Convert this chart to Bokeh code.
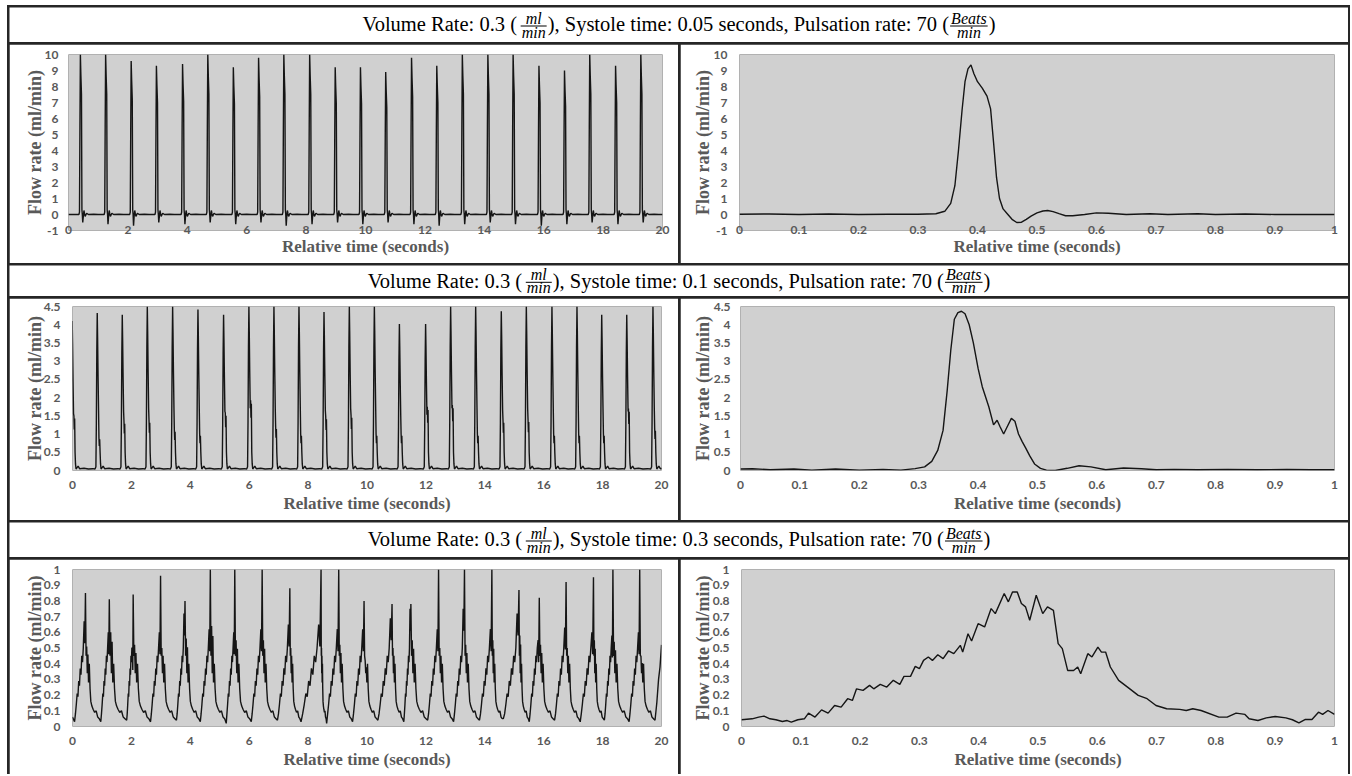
from bokeh.plotting import figure
from bokeh.layouts import column, row
from bokeh.models import Range1d, FixedTicker, ColumnDataSource
from bokeh.core.properties import value
from bokeh.embed import file_html
from bokeh.resources import INLINE

# ---------------- title data ----------------
volume_rates = ["0.3", "0.3", "0.3"]
systole_times = ["0.05", "0.1", "0.3"]
pulsation_rates = ["70", "70", "70"]

# ---------------- axis ticks ----------------
x_ticks_long = [0, 2, 4, 6, 8, 10, 12, 14, 16, 18, 20]
x_labels_long = ["0", "2", "4", "6", "8", "10", "12", "14", "16", "18", "20"]
x_ticks_short = [0, 0.1, 0.2, 0.3, 0.4, 0.5, 0.6, 0.7, 0.8, 0.9, 1]
x_labels_short = ["0", "0.1", "0.2", "0.3", "0.4", "0.5", "0.6", "0.7", "0.8", "0.9", "1"]
y_ticks_r1 = [-1, 0, 1, 2, 3, 4, 5, 6, 7, 8, 9, 10]
y_labels_r1 = ["-1", "0", "1", "2", "3", "4", "5", "6", "7", "8", "9", "10"]
y_ticks_r2 = [0, 0.5, 1, 1.5, 2, 2.5, 3, 3.5, 4, 4.5]
y_labels_r2 = ["0", "0.5", "1", "1.5", "2", "2.5", "3", "3.5", "4", "4.5"]
y_ticks_r3 = [0, 0.1, 0.2, 0.3, 0.4, 0.5, 0.6, 0.7, 0.8, 0.9, 1]
y_labels_r3 = ["0", "0.1", "0.2", "0.3", "0.4", "0.5", "0.6", "0.7", "0.8", "0.9", "1"]

# ---------------- row 1 (systole 0.05 s) ----------------
peak_t1 = [0.40, 1.25, 2.11, 2.96, 3.84, 4.69, 5.55, 6.40, 7.25, 8.12, 8.98, 9.83,
           10.68, 11.55, 12.40, 13.26, 14.12, 14.97, 15.84, 16.70, 17.55, 18.42, 19.27]
peak_v1 = [10.0, 10.0, 9.6, 9.3, 9.4, 10.0, 9.2, 9.8, 10.0, 10.0, 9.2, 9.2,
           8.9, 9.8, 9.3, 10.0, 10.0, 10.0, 9.3, 9.0, 10.0, 9.3, 10.0]
dip_v1 = [-0.5, -0.6, -0.7, -0.5, -0.6, -0.5, -0.6, -0.5, -0.7, -0.6, -0.5, -0.6,
          -0.5, -0.6, -0.7, -0.6, -0.5, -0.6, -0.7, -0.6, -0.5, -0.6, -0.5]
t1r = [0, 0.05, 0.1, 0.15, 0.2, 0.25, 0.3, 0.33, 0.345, 0.355, 0.362, 0.368, 0.374, 0.379,
       0.384, 0.389, 0.394, 0.4, 0.408, 0.416, 0.422, 0.427, 0.432, 0.437, 0.443, 0.45, 0.458,
       0.466, 0.474, 0.482, 0.49, 0.5, 0.51, 0.518, 0.527, 0.537, 0.548, 0.56, 0.58, 0.6, 0.62,
       0.65, 0.69, 0.72, 0.77, 0.8, 0.85, 0.9, 0.95, 1.0]
v1r = [0.02, 0.03, 0.0, 0.03, 0.0, 0.02, 0.02, 0.05, 0.2, 0.7, 1.8, 4.0, 6.5, 8.3,
       9.1, 9.35, 8.8, 8.3, 7.9, 7.4, 6.6, 4.5, 2.3, 1.0, 0.35, 0.05, -0.3,
       -0.5, -0.48, -0.3, -0.1, 0.1, 0.22, 0.25, 0.18, 0.05, -0.08, -0.08, 0.0, 0.1, 0.08,
       0.0, 0.05, 0.0, 0.05, 0.0, 0.03, 0.0, 0.0, 0.0]

# ---------------- row 2 (systole 0.1 s) ----------------
peak_t2 = [-0.01, 0.84, 1.69, 2.54, 3.40, 4.26, 5.13, 5.99, 6.84, 7.69, 8.54, 9.40,
           10.25, 11.10, 11.99, 12.84, 13.69, 14.56, 15.41, 16.28, 17.13, 17.97, 18.82, 19.71]
peak_v2 = [4.1, 4.32, 4.27, 4.5, 4.5, 4.42, 4.27, 4.5, 4.5, 4.5, 4.35, 4.5,
           4.5, 4.02, 4.02, 4.5, 4.5, 4.37, 4.5, 4.5, 4.5, 4.27, 4.27, 4.5]
sec_v2 = [1.5, 0.9, 1.35, 1.38, 1.12, 1.0, 1.58, 1.93, 1.2, 1.0, 1.48, 1.52,
          1.0, 1.0, 1.75, 1.8, 1.0, 1.38, 1.4, 1.0, 1.0, 1.0, 1.7, 1.15]
t2r = [0, 0.02, 0.05, 0.09, 0.12, 0.16, 0.2, 0.24, 0.27, 0.294, 0.31, 0.322, 0.332, 0.341,
       0.348, 0.354, 0.36, 0.366, 0.372, 0.378, 0.385, 0.392, 0.4, 0.407, 0.418, 0.426, 0.432,
       0.437, 0.443, 0.449, 0.456, 0.462, 0.468, 0.474, 0.48, 0.487, 0.495, 0.505, 0.515, 0.53,
       0.55, 0.57, 0.59, 0.615, 0.645, 0.675, 0.7, 0.73, 0.77, 0.82, 0.87, 0.92, 0.96, 1.0]
v2r = [0.04, 0.05, 0.02, 0.04, 0.01, 0.04, 0.01, 0.03, 0.01, 0.05, 0.1, 0.25, 0.55, 1.1,
       2.2, 3.3, 4.15, 4.33, 4.37, 4.3, 4.0, 3.5, 2.8, 2.3, 1.75, 1.25, 1.38,
       1.2, 1.0, 1.2, 1.43, 1.35, 1.0, 0.8, 0.62, 0.4, 0.18, 0.06, 0.01, 0.0,
       0.06, 0.13, 0.1, 0.02, 0.07, 0.05, 0.02, 0.03, 0.02, 0.03, 0.02, 0.03, 0.02, 0.02]

# ---------------- row 3 (systole 0.3 s) ----------------
trough_t3 = [0.07, 0.96, 1.84, 2.65, 3.53, 4.34, 5.22, 6.07, 6.96, 7.76, 8.63, 9.51,
             10.37, 11.25, 12.06, 12.94, 13.82, 14.63, 15.51, 16.37, 17.24, 18.06, 18.90, 19.78]
low_v3 = [0.03, 0.03, 0.04, 0.03, 0.04, 0.03, 0.02, 0.03, 0.04, 0.03, 0.02, 0.03,
          0.04, 0.03, 0.04, 0.03, 0.04, 0.05, 0.03, 0.04, 0.03, 0.04, 0.03, 0.04]
peak_t3 = [0.44, 1.25, 2.06, 2.99, 3.82, 4.68, 5.51, 6.44, 7.38, 8.44, 9.04, 9.90,
           10.85, 11.49, 12.43, 13.31, 14.24, 15.16, 15.85, 16.76, 17.69, 18.35, 19.26]
peak_v3 = [0.85, 0.81, 0.84, 0.96, 0.80, 1.0, 1.0, 1.0, 0.88, 1.0, 1.0, 0.80,
           0.78, 0.78, 1.0, 1.0, 1.0, 0.87, 0.82, 0.92, 0.95, 1.0, 1.0]
pre_v3 = [0.67, 0.6, 0.5, 0.6, 0.72, 0.62, 0.6, 0.62, 0.65, 0.65, 0.62, 0.62,
          0.69, 0.75, 0.62, 0.75, 0.62, 0.72, 0.55, 0.63, 0.6, 0.58, 0.6]
sec_v3 = [0.51, 0.6, 0.52, 0.5, 0.56, 0.64, 0.55, 0.55, 0.5, 0.5, 0.52, 0.42,
          0.5, 0.55, 0.5, 0.52, 0.55, 0.58, 0.52, 0.5, 0.55, 0.54, 0.45]
head_t3, head_v3 = [0.0], [0.06]
tail_t3, tail_v3 = [19.84, 19.9, 19.95, 20.0], [0.15, 0.3, 0.38, 0.52]
t3r = [0.0, 0.018, 0.029, 0.038, 0.048, 0.058, 0.069, 0.077, 0.084, 0.095, 0.106, 0.113, 0.124,
       0.135, 0.146, 0.157, 0.168, 0.179, 0.187, 0.194, 0.205, 0.216, 0.223, 0.234, 0.245, 0.256,
       0.267, 0.274, 0.285, 0.293, 0.300, 0.307, 0.315, 0.322, 0.331, 0.340, 0.349, 0.358, 0.369,
       0.373, 0.382, 0.388, 0.399, 0.410, 0.421, 0.428, 0.443, 0.450, 0.457, 0.465, 0.472, 0.479,
       0.486, 0.497, 0.508, 0.516, 0.526, 0.534, 0.541, 0.550, 0.560, 0.567, 0.572, 0.584, 0.591,
       0.601, 0.607, 0.614, 0.622, 0.636, 0.651, 0.669, 0.684, 0.699, 0.717, 0.739, 0.750, 0.761,
       0.775, 0.805, 0.819, 0.834, 0.849, 0.856, 0.871, 0.885, 0.900, 0.918, 0.929, 0.940, 0.951,
       0.962, 0.973, 0.980, 0.989, 1.0]
v3r = [0.043, 0.049, 0.06, 0.066, 0.049, 0.043, 0.032, 0.038, 0.028, 0.043, 0.049, 0.085, 0.06,
       0.106, 0.085, 0.134, 0.123, 0.177, 0.166, 0.24, 0.23, 0.262, 0.24, 0.268, 0.251, 0.294,
       0.268, 0.319, 0.319, 0.383, 0.368, 0.421, 0.443, 0.421, 0.457, 0.432, 0.481, 0.464, 0.517,
       0.474, 0.591, 0.545, 0.655, 0.634, 0.751, 0.719, 0.847, 0.794, 0.857, 0.857, 0.783, 0.762,
       0.677, 0.836, 0.719, 0.762, 0.740, 0.528, 0.496, 0.357, 0.357, 0.379, 0.336, 0.464, 0.443,
       0.506, 0.474, 0.474, 0.379, 0.294, 0.251, 0.198, 0.177, 0.134, 0.113, 0.109, 0.102, 0.113,
       0.102, 0.06, 0.06, 0.085, 0.077, 0.049, 0.038, 0.055, 0.064, 0.055, 0.043, 0.023, 0.045,
       0.045, 0.091, 0.077, 0.102, 0.077]


# ---------------- assemble 20 s traces from per-beat readings ----------------
def trace_row1():
    xs, ys = [0.0], [0.0]
    for t, p, d in zip(peak_t1, peak_v1, dip_v1):
        pts = [(t - 0.05, 0.0), (t - 0.03, 0.15), (t - 0.015, 0.55 * p), (t, p),
               (t + 0.017, 0.87 * p), (t + 0.037, 0.75 * p), (t + 0.052, 0.3), (t + 0.065, 0.0),
               (t + 0.08, d), (t + 0.1, -0.1), (t + 0.12, 0.25), (t + 0.14, 0.05),
               (t + 0.16, -0.12), (t + 0.21, 0.08), (t + 0.27, 0.0), (t + 0.45, 0.02), (t + 0.6, 0.0)]
        for a, b in pts:
            xs.append(a); ys.append(b)
    xs.append(20.0); ys.append(0.0)
    return xs, ys


def trace_row2():
    xs, ys = [], []
    for t, p, s in zip(peak_t2, peak_v2, sec_v2):
        pts = [(t - 0.075, 0.04), (t - 0.045, 0.1), (t - 0.03, 0.3 * p), (t - 0.015, 0.75 * p),
               (t, p), (t + 0.012, 0.85 * p), (t + 0.028, 0.6 * p), (t + 0.045, 0.38 * p),
               (t + 0.058, s), (t + 0.07, 0.75 * s), (t + 0.083, 0.95 * s), (t + 0.097, 0.5),
               (t + 0.112, 0.18), (t + 0.13, 0.04), (t + 0.2, 0.12), (t + 0.25, 0.05),
               (t + 0.4, 0.06), (t + 0.55, 0.04), (t + 0.7, 0.05)]
        for a, b in pts:
            xs.append(a); ys.append(b)
    return xs, ys


rise_f = [0.08, 0.16, 0.24, 0.31, 0.38, 0.45, 0.52, 0.59, 0.66, 0.73, 0.8]
rise_lv = [0.08, 0.14, 0.21, 0.19, 0.29, 0.26, 0.37, 0.33, 0.45, 0.41, 0.5]
fall_f = [0.04, 0.08, 0.12, 0.16, 0.2, 0.25, 0.3, 0.35, 0.42, 0.5, 0.6, 0.7, 0.8, 0.9]
fall_lv = [0.45, None, 0.34, None, 0.28, 0.4, 0.24, 0.16, 0.13, 0.11, 0.09, 0.1, 0.06, 0.05]


def trace_row3():
    xs, ys = list(head_t3), list(head_v3)
    for k in range(len(peak_t3)):
        T, P, Tn = trough_t3[k], peak_t3[k], trough_t3[k + 1]
        d, e = P - T, Tn - P
        xs.append(T); ys.append(low_v3[k])
        for f, lv in zip(rise_f, rise_lv):
            xs.append(T + f * d); ys.append(lv)
        xs.append(T + 0.88 * d); ys.append(pre_v3[k])
        xs.append(T + 0.94 * d); ys.append(pre_v3[k] - 0.14)
        xs.append(P); ys.append(peak_v3[k])
        for i, (f, lv) in enumerate(zip(fall_f, fall_lv)):
            if lv is None:
                lv = sec_v3[k] if i == 1 else 0.9 * sec_v3[k]
            xs.append(P + f * e); ys.append(lv)
    xs.append(trough_t3[-1]); ys.append(low_v3[-1])
    xs += tail_t3; ys += tail_v3
    return xs, ys


# ---------------- styling helpers ----------------
GRAY_TXT = "#595959"
PLOT_BG = "#d0d0d0"
LINE_C = "#151515"


def panel(w, h, ml, mr, mt, mb, xr, yr, xt, xl, yt, yl, x_so, x_lso, y_so, y_lso, xs, ys):
    p = figure(width=w, height=h, x_range=Range1d(*xr), y_range=Range1d(*yr),
               output_backend="svg", toolbar_location=None,
               min_border_left=ml, min_border_right=mr, min_border_top=mt, min_border_bottom=mb)
    p.background_fill_color = PLOT_BG
    p.border_fill_color = "white"
    p.outline_line_color = None
    p.grid.visible = False
    for ax in (p.xaxis[0], p.yaxis[0]):
        ax.axis_line_color = None
        ax.major_tick_line_color = None
        ax.minor_tick_line_color = None
        ax.major_tick_out = 0
        ax.major_tick_in = 0
        ax.major_label_text_font = "Lato"
        ax.major_label_text_font_style = "bold"
        ax.major_label_text_font_size = "12px"
        ax.major_label_text_color = GRAY_TXT
        ax.axis_label_text_font = "Liberation Serif"
        ax.axis_label_text_font_style = "bold"
        ax.axis_label_text_color = GRAY_TXT
    p.xaxis.ticker = FixedTicker(ticks=xt)
    p.xaxis.major_label_overrides = {t: s for t, s in zip(xt, xl)}
    p.yaxis.ticker = FixedTicker(ticks=yt)
    p.yaxis.major_label_overrides = {t: s for t, s in zip(yt, yl)}
    p.xaxis.axis_label = "Relative time (seconds)"
    p.xaxis.axis_label_text_font_size = "17px"
    p.yaxis.axis_label = "Flow rate (ml/min)"
    p.yaxis.axis_label_text_font_size = "18px"
    p.xaxis.major_label_standoff = x_so
    p.xaxis.axis_label_standoff = x_lso
    p.yaxis.major_label_standoff = y_so
    p.yaxis.axis_label_standoff = y_lso
    src = ColumnDataSource(dict(t=xs, v=ys))
    p.line(x="t", y="v", source=src, line_color=LINE_C, line_width=1.4)
    return p


# Times-compatible advance widths (per 1000 em), for laying out the title text
REG = {'V': 722, 'o': 500, 'l': 278, 'u': 500, 'm': 778, 'e': 444, ' ': 250, 'R': 667, 'a': 444,
       't': 278, ':': 278, '.': 250, '(': 333, ')': 333, ',': 250, 'S': 556, 'y': 500, 's': 389,
       'i': 278, 'c': 444, 'n': 500, 'd': 500, 'P': 556, 'r': 333}
ITA = {'m': 722, 'l': 278, 'i': 278, 'n': 500, 'B': 611, 'e': 444, 'a': 500, 't': 278, 's': 389}


def tw(s, size, tab):
    return size * sum(tab.get(c, 500) for c in s) / 1000.0


TW = 1339
FS, FFS = 20.5, 16.0
BASE_SHIFT = 0.32  # renderer places 'alphabetic' text ~0.32 em low


def title_fig(h, bar, den_gap, k):
    p = figure(width=TW, height=h, x_range=Range1d(0, TW), y_range=Range1d(h, 0),
               output_backend="svg", toolbar_location=None, x_axis_type=None, y_axis_type=None,
               min_border_left=0, min_border_right=0, min_border_top=0, min_border_bottom=0)
    p.outline_line_color = None
    p.background_fill_color = "white"
    p.border_fill_color = "white"
    seg1 = "Volume Rate: %s (" % volume_rates[k]
    seg2 = "), Systole time: %s seconds, Pulsation rate: %s (" % (systole_times[k], pulsation_rates[k])
    seg3 = ")"
    fr1 = ("ml", "min")
    fr2 = ("Beats", "min")
    w1, w2, w3 = tw(seg1, FS, REG), tw(seg2, FS, REG), tw(seg3, FS, REG)
    f1w = max(tw(fr1[0], FFS, ITA), tw(fr1[1], FFS, ITA)) + 4
    f2w = max(tw(fr2[0], FFS, ITA), tw(fr2[1], FFS, ITA)) + 4
    total = w1 + f1w + w2 + f2w + w3
    x0 = 669.5 - total / 2
    base = bar + 5 - BASE_SHIFT * FS
    xs = [x0, x0 + w1 + f1w, x0 + w1 + f1w + w2 + f2w]
    p.text(x=xs, y=[base] * 3, text=[seg1, seg2, seg3], text_font=value("Liberation Serif"),
           text_font_size="%gpx" % FS, text_baseline="alphabetic", text_align="left",
           text_color="black")
    c1 = x0 + w1 + f1w / 2
    c2 = x0 + w1 + f1w + w2 + f2w / 2
    num_y = bar - 2.5 - BASE_SHIFT * FFS
    den_y = bar + den_gap - BASE_SHIFT * FFS
    p.text(x=[c1, c2], y=[num_y] * 2, text=[fr1[0], fr2[0]], text_font=value("Liberation Serif"),
           text_font_style="italic", text_font_size="%gpx" % FFS, text_baseline="alphabetic",
           text_align="center", text_color="black")
    p.text(x=[c1, c2], y=[den_y] * 2, text=[fr1[1], fr2[1]], text_font=value("Liberation Serif"),
           text_font_style="italic", text_font_size="%gpx" % FFS, text_baseline="alphabetic",
           text_align="center", text_color="black")
    p.segment(x0=[c1 - f1w / 2 + 1, c2 - f2w / 2 + 1], y0=[bar, bar],
              x1=[c1 + f1w / 2 - 1, c2 + f2w / 2 - 1], y1=[bar, bar],
              line_color="black", line_width=1)
    return p


x1, y1 = trace_row1()
x2, y2 = trace_row2()
x3, y3 = trace_row3()

t1 = title_fig(35, 18.5, 11.5, 0)
p11 = panel(669, 219, 59, 16, 10, 33, (0, 20), (-1, 10), x_ticks_long, x_labels_long,
            y_ticks_r1, y_labels_r1, -5, 0, 10, -3, x1, y1)
p12 = panel(668, 219, 59, 14, 10, 33, (0, 1), (-1, 10), x_ticks_short, x_labels_short,
            y_ticks_r1, y_labels_r1, -5, 0, 12, -2, t1r, v1r)

t2 = title_fig(31, 16.8, 10.7, 1)
p21 = panel(669, 222, 63, 17, 8, 50, (0, 20), (0, 4.5), x_ticks_long, x_labels_long,
            y_ticks_r2, y_labels_r2, 10, 2, 12, -4, x2, y2)
p22 = panel(668, 222, 60, 14, 8, 50, (0, 1), (0, 4.5), x_ticks_short, x_labels_short,
            y_ticks_r2, y_labels_r2, 10, 2, 10, -2, t2r, v2r)

t3 = title_fig(35, 18.5, 11.5, 2)
p31 = panel(669, 215, 63, 17, 10, 48, (0, 20), (0, 1), x_ticks_long, x_labels_long,
            y_ticks_r3, y_labels_r3, 10, 2, 12, -4, x3, y3)
p32 = panel(668, 215, 61, 14, 10, 48, (0, 1), (0, 1), x_ticks_short, x_labels_short,
            y_ticks_r3, y_labels_r3, 10, 2, 12, -3, t3r, v3r)

layout = column(
    t1, row(p11, p12, spacing=2),
    t2, row(p21, p22, spacing=2),
    t3, row(p31, p32, spacing=2),
    spacing=2,
    styles={"background-color": "#262626", "padding": "2px 2px 0px 2px",
            "margin-top": "5px", "margin-left": "7px"},
)

open("out.html", "w").write(file_html(layout, INLINE, title="Flow rate"))
